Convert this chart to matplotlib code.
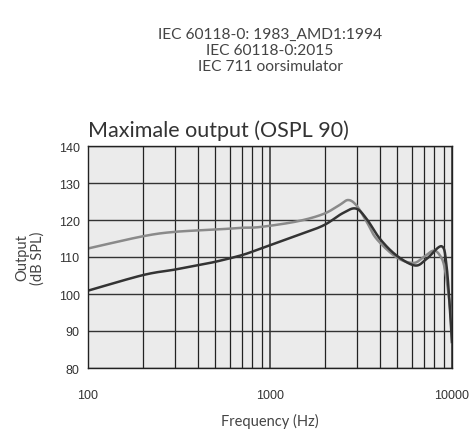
import numpy as np
from matplotlib import pyplot as plt
from matplotlib.ticker import FixedLocator, NullFormatter

# data
freq_light = [100, 200, 300, 500, 700, 880, 1400, 1960, 2400, 2690, 2990, 3400,
              3850, 4960, 6130, 6950, 7890, 8590, 9130, 9770, 10000]
spl_light = [112.3, 115.6, 116.8, 117.4, 117.9, 118.1, 119.6, 121.6, 124.0, 125.4,
             123.9, 119.5, 114.9, 109.9, 108.4, 109.9, 111.7, 110.4, 106.8, 96.0, 87.0]

freq_dark = [100, 200, 300, 400, 500, 700, 880, 1400, 1960, 2500, 2960, 3395,
             4020, 4960, 6270, 7260, 8770, 9330, 9800, 10000]
spl_dark = [100.9, 105.1, 106.6, 107.8, 108.7, 110.5, 112.2, 115.8, 118.5, 121.8,
            123.1, 120.3, 114.9, 110.4, 107.7, 109.5, 112.9, 107.7, 94.0, 87.0]

header = "IEC 60118-0: 1983_AMD1:1994\nIEC 60118-0:2015\nIEC 711 oorsimulator"
y_ticks = [80, 90, 100, 110, 120, 130, 140]
x_ticks = [100, 1000, 10000]


def smooth(xs, ys):
    # Catmull-Rom curve through the read points, in log-frequency
    pts = np.array([np.log10(xs), ys]).T
    out = []
    for i in range(len(pts) - 1):
        p0 = pts[max(i - 1, 0)]
        p1 = pts[i]
        p2 = pts[i + 1]
        p3 = pts[min(i + 2, len(pts) - 1)]
        for s in np.linspace(0, 1, 20, endpoint=False):
            s2, s3 = s * s, s * s * s
            out.append(0.5 * ((2 * p1) + (-p0 + p2) * s +
                              (2 * p0 - 5 * p1 + 4 * p2 - p3) * s2 +
                              (-p0 + 3 * p1 - 3 * p2 + p3) * s3))
    out.append(pts[-1])
    out = np.array(out)
    return 10 ** out[:, 0], out[:, 1]


fig = plt.figure(figsize=(4.69, 4.31), dpi=100)
ax = fig.add_axes([88 / 469, 1 - 369 / 431, 364 / 469, 222 / 431])

ax.set_facecolor('#ebebeb')
ax.set_xscale('log')
ax.set_xlim(100, 10000)
ax.set_ylim(80, 140)

minor = [m * d for d in (100, 1000) for m in range(2, 10)]
ax.xaxis.set_minor_locator(FixedLocator(minor))
ax.xaxis.set_minor_formatter(NullFormatter())
ax.xaxis.set_major_locator(FixedLocator(x_ticks))
ax.set_xticklabels([str(v) for v in x_ticks])
ax.set_yticks(y_ticks)

ax.grid(True, which='major', color='#555555', lw=1.4)
ax.grid(True, which='minor', axis='x', color='#222222', lw=0.9)
ax.grid(True, which='major', axis='y', color='#333333', lw=1.0)
ax.set_axisbelow(True)

for sp in ax.spines.values():
    sp.set_color('#222222')
    sp.set_linewidth(1.0)

ax.tick_params(which='both', length=0, labelsize=9, colors='#333333', pad=6)
ax.tick_params(axis='x', pad=15)
for lbl in ax.get_xticklabels() + ax.get_yticklabels():
    lbl.set_family('Liberation Sans')

xl, yl = smooth(freq_light, spl_light)
xd, yd = smooth(freq_dark, spl_dark)
ax.plot(xl, yl, color='#8a8a8a', lw=1.8)
ax.plot(xd, yd, color='#333333', lw=1.8)

ax.set_xlabel('Frequency (Hz)', family='Lato', fontsize=10.5, color='#444444', labelpad=9)
ax.set_ylabel('Output\n(dB SPL)', family='Lato', fontsize=10.5, color='#444444',
              labelpad=10, linespacing=1.05)
ax.set_title('Maximale output (OSPL 90)', family='Lato',
             fontsize=15.5, color='#333333', loc='left', pad=7)

fig.text(270 / 469, 1 - 51 / 431, header, ha='center', va='center', family='Lato',
         fontsize=11.2, color='#444444', linespacing=1.15)

fig.savefig('out.png', dpi=100)
